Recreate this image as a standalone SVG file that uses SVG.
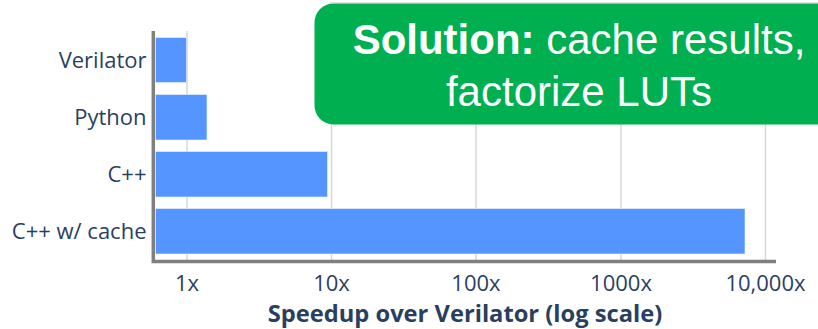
<svg xmlns="http://www.w3.org/2000/svg" width="818" height="329" viewBox="0 0 818 329">
<style>
.grid{stroke:#d3d8e0;stroke-width:1.5}
.bar{fill:#5595ff;stroke:#eef3ff;stroke-width:0.6}
.axis{stroke:#7f7f7f;stroke-width:3.5;fill:none}
.lbl{font-family:"Open Sans",sans-serif;font-size:22px;fill:#2a3f5f}
.cat{text-anchor:end}
.tick{text-anchor:middle}
.title{font-family:"Open Sans",sans-serif;font-size:23.7px;font-weight:bold;fill:#2a3f5f;text-anchor:middle}
.box{fill:#00b050}
.boxtxt{font-family:"Liberation Sans",Arial,sans-serif;font-size:42px;fill:#ffffff;text-anchor:middle}
</style>
<rect width="818" height="329" fill="#ffffff"/>
<g id="gridlines">
<line class="grid" x1="187" y1="31" x2="187" y2="261"/>
<line class="grid" x1="331.5" y1="31" x2="331.5" y2="261"/>
<line class="grid" x1="476" y1="31" x2="476" y2="261"/>
<line class="grid" x1="621" y1="31" x2="621" y2="261"/>
<line class="grid" x1="765.5" y1="31" x2="765.5" y2="261"/>
</g>
<g id="bars">
<g id="bar-verilator"><rect class="bar" x="155.5" y="37.5" width="31" height="45"/><text class="lbl cat" x="146.5" y="68">Verilator</text></g>
<g id="bar-python"><rect class="bar" x="155.5" y="94.5" width="51.5" height="45.5"/><text class="lbl cat" x="146.5" y="125">Python</text></g>
<g id="bar-cpp"><rect class="bar" x="155.5" y="151.5" width="172" height="45.5"/><text class="lbl cat" x="146.5" y="182">C++</text></g>
<g id="bar-cpp-cache"><rect class="bar" x="155.5" y="208.5" width="589.5" height="45.5"/><text class="lbl cat" x="146.5" y="238.5">C++ w/ cache</text></g>
</g>
<g id="axes">
<path class="axis" d="M153.3 31 V261.6 H776"/>
</g>
<g id="ticks">
<text class="lbl tick" x="187" y="291">1x</text>
<text class="lbl tick" x="331.5" y="291">10x</text>
<text class="lbl tick" x="476" y="291">100x</text>
<text class="lbl tick" x="621" y="291">1000x</text>
<text class="lbl tick" x="765.5" y="291">10,000x</text>
<text class="title" x="465" y="321.5">Speedup over Verilator (log scale)</text>
</g>
<g id="callout">
<line x1="330" y1="2.7" x2="818" y2="2.7" stroke="#dddddd" stroke-width="1"/>
<rect class="box" x="314.5" y="3.5" width="530" height="121" rx="19" ry="19"/>
<text class="boxtxt" x="579" y="53.5"><tspan font-weight="bold">Solution:</tspan> cache results,</text>
<text class="boxtxt" x="579" y="106">factorize LUTs</text>
</g>
</svg>
